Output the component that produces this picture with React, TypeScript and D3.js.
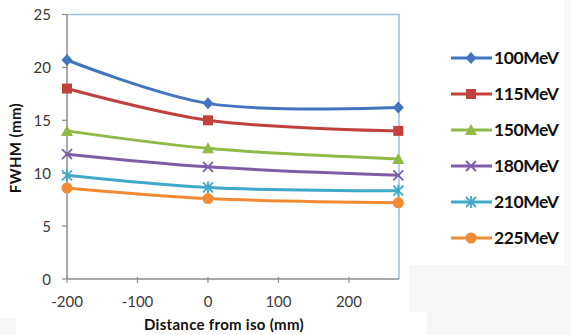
import React from "react";
import * as d3 from "d3";

const distances = [-200, 0, 270];
const seriesNames = ["100MeV", "115MeV", "150MeV", "180MeV", "210MeV", "225MeV"];
const fwhm100 = [20.7, 16.6, 16.2];
const fwhm115 = [18.0, 15.0, 14.0];
const fwhm150 = [14.0, 12.35, 11.35];
const fwhm180 = [11.8, 10.6, 9.8];
const fwhm210 = [9.8, 8.65, 8.35];
const fwhm225 = [8.6, 7.6, 7.2];
const seriesValues = [fwhm100, fwhm115, fwhm150, fwhm180, fwhm210, fwhm225];
const seriesColors = ["#4374c1", "#c0403d", "#8fba48", "#7d5ea6", "#40a8c8", "#f18a35"];
const markers = ["diamond", "square", "triangle", "x", "star", "circle"];
const yTicks = [0, 5, 10, 15, 20, 25];
const xTicks = [-200, -100, 0, 100, 200];

const W = 571;
const H = 335;
const left = 67;
const right = 399;
const top = 14.5;
const bottom = 279;

function Marker({ type, x, y, color }: { type: string; x: number; y: number; color: string }) {
  switch (type) {
    case "diamond":
      return <path d={`M${x},${y - 6} L${x + 5.5},${y} L${x},${y + 6} L${x - 5.5},${y} Z`} fill={color} />;
    case "square":
      return <rect x={x - 5} y={y - 5} width={10} height={10} fill={color} />;
    case "triangle":
      return <path d={`M${x},${y - 6} L${x + 6},${y + 5} L${x - 6},${y + 5} Z`} fill={color} />;
    case "x":
      return (
        <path d={`M${x - 5},${y - 5} L${x + 5},${y + 5} M${x - 5},${y + 5} L${x + 5},${y - 5}`} stroke={color} strokeWidth={1.8} fill="none" />
      );
    case "star":
      return (
        <path
          d={`M${x - 5},${y - 5} L${x + 5},${y + 5} M${x - 5},${y + 5} L${x + 5},${y - 5} M${x},${y - 6} L${x},${y + 6}`}
          stroke={color}
          strokeWidth={1.8}
          fill="none"
        />
      );
    default:
      return <circle cx={x} cy={y} r={5.5} fill={color} />;
  }
}

export default function App() {
  const xScale = d3.scaleLinear().domain([-200, 271]).range([left, right]);
  const yScale = d3.scaleLinear().domain([0, 25]).range([bottom, top]);
  const line = d3
    .line<number>()
    .x((_, i) => xScale(distances[i]))
    .y((d) => yScale(d))
    .curve(d3.curveCatmullRom.alpha(0.5));

  const font = "Lato, 'Open Sans', sans-serif";

  return (
    <svg width={W} height={H} style={{ position: "absolute", left: 0, top: 0, background: "#fff" }}>
      <rect x={0} y={0} width={W} height={H} fill="#fff" />
      <path d="M409,265 L571,265 L571,335 L427,335 L427,312 L409,312 Z" fill="#f6f6f6" />
      <rect x={564} y={0} width={7} height={265} fill="#f9f9f9" />
      <rect x={0} y={318} width={16} height={17} fill="#f6f6f6" />

      {/* plot border top/right */}
      <path d={`M${left},${top} L${right},${top} L${right},${bottom}`} stroke="#9dc0e4" strokeWidth={1.5} fill="none" />

      {/* y axis */}
      <line x1={left} x2={left} y1={top} y2={bottom} stroke="#8c8c8c" strokeWidth={1.5} />
      {yTicks.map((t) => (
        <g key={t}>
          <line x1={left - 5} x2={left} y1={yScale(t)} y2={yScale(t)} stroke="#8c8c8c" strokeWidth={1.2} />
          <text x={51} y={yScale(t) + 5.5} textAnchor="end" fontFamily={font} fontSize={15} fill="#3a3a3a">
            {t}
          </text>
        </g>
      ))}

      {/* x axis */}
      <line x1={left} x2={right} y1={bottom} y2={bottom} stroke="#8c8c8c" strokeWidth={1.5} />
      {xTicks.map((t) => (
        <g key={t}>
          <line x1={xScale(t)} x2={xScale(t)} y1={bottom - 2} y2={bottom + 4} stroke="#8c8c8c" strokeWidth={1.2} />
          <text x={xScale(t)} y={307} textAnchor="middle" fontFamily={font} fontSize={15} fill="#3a3a3a">
            {t}
          </text>
        </g>
      ))}

      <text x={224} y={330} textAnchor="middle" fontFamily={font} fontWeight="bold" fontSize={15} letterSpacing={0.3} fill="#111">
        Distance from iso (mm)
      </text>
      <text
        transform="translate(21,148) rotate(-90)"
        textAnchor="middle"
        fontFamily={font}
        fontWeight="bold"
        fontSize={15}
        letterSpacing={0.4}
        fill="#111"
      >
        FWHM (mm)
      </text>

      {/* series */}
      {seriesValues.map((vals, si) => (
        <g key={seriesNames[si]}>
          <path d={line(vals) || ""} stroke={seriesColors[si]} strokeWidth={3} fill="none" strokeLinecap="round" />
          {vals.map((v, i) => (
            <Marker key={i} type={markers[si]} x={xScale(distances[i])} y={yScale(v)} color={seriesColors[si]} />
          ))}
        </g>
      ))}

      {/* legend */}
      {seriesNames.map((name, i) => {
        const y = 58 + i * 36;
        return (
          <g key={name}>
            <line x1={451} x2={492} y1={y} y2={y} stroke={seriesColors[i]} strokeWidth={3} />
            <Marker type={markers[i]} x={471} y={y} color={seriesColors[i]} />
            <text x={494} y={y + 6} fontFamily={font} fontWeight="bold" fontSize={17.5} letterSpacing={-0.4} fill="#111">
              {name}
            </text>
          </g>
        );
      })}
    </svg>
  );
}
